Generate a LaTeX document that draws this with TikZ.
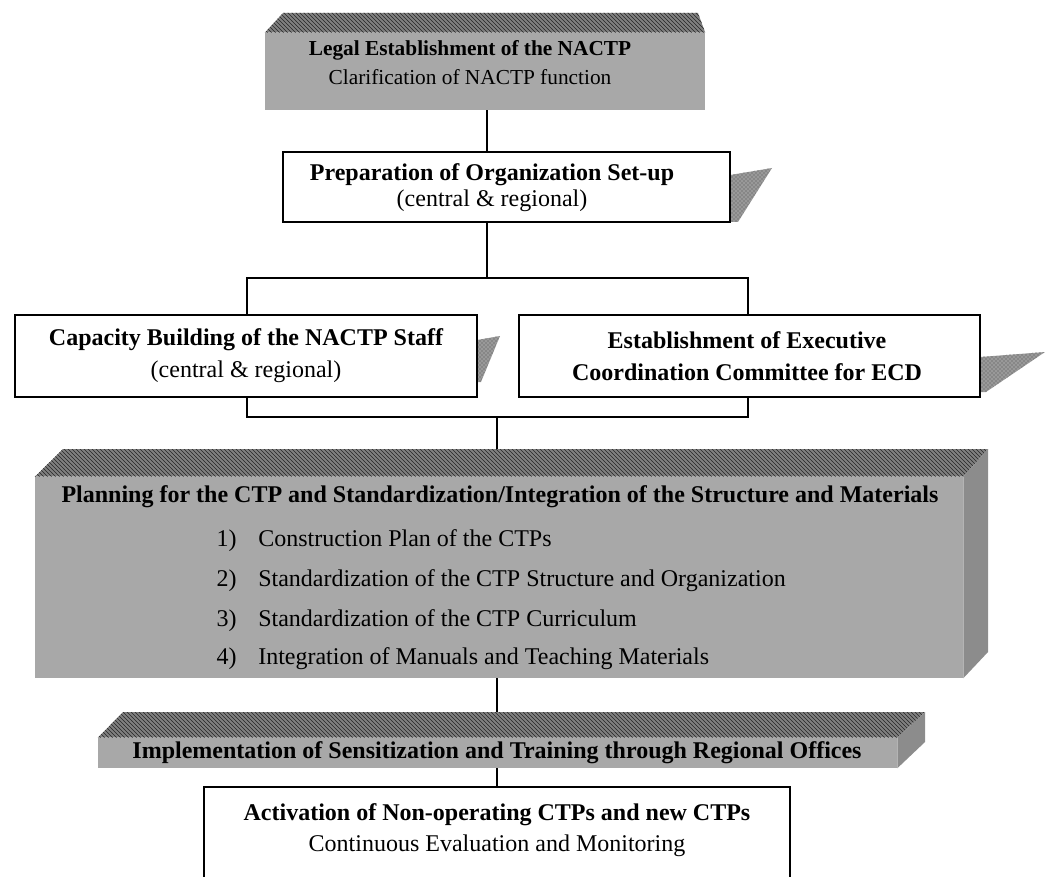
\documentclass[tikz,border=0pt]{standalone}
\usepackage{fontspec}
\setmainfont{Liberation Serif}
\usetikzlibrary{patterns}
\begin{document}
\begin{tikzpicture}[x=0.75pt,y=-0.75pt,
  conn/.style={line width=1pt},
  boxA/.style={draw=black, line width=2pt, fill=white, inner sep=0pt},
  boxB/.style={draw=black, line width=1.1pt, fill=white, inner sep=0pt},
  front/.style={fill=black!34, inner sep=0pt},
  topf/.style={fill=black!50, postaction={pattern=north west lines, pattern color=black!85}},
  sidef/.style={fill=black!45},
  shadef/.style={fill=black!40, postaction={pattern=crosshatch dots, pattern color=black!70}},
  hb/.style={font=\fontsize{18}{22}\selectfont\bfseries, inner sep=0pt},
  nt/.style={font=\fontsize{18}{22}\selectfont, inner sep=0pt},
  hs/.style={font=\fontsize{16}{20}\selectfont\bfseries, inner sep=0pt},
  ns/.style={font=\fontsize{16}{20}\selectfont, inner sep=0pt}]
\useasboundingbox (0,0) rectangle (1045,877);

% connector x positions
\coordinate (cx1) at (487,0);
\coordinate (cx2) at (497,0);

% ---------------- Legal establishment (3D gray block)
\node[front, minimum width=440*0.75pt, minimum height=77*0.75pt] (legal) at (485,71.5) {};
\path[topf] (legal.north west) -- (283,13) -- (698,13) -- (legal.north east) -- cycle;
\node[hs] (legalA) at (470,50) {Legal Establishment of the NACTP};
\node[ns] (legalB) at (470,77) {Clarification of NACTP function};

% ---------------- Preparation box
\fill[shadef] (730,175) -- (772,168) -- (738,222) -- (730,222) -- cycle;
\node[boxA, minimum width=447*0.75pt, minimum height=70*0.75pt] (prep) at (506.5,187) {};
\node[hb] (prepA) at (492,175) {Preparation of Organization Set-up};
\node[nt] (prepB) at (492,201) {(central \& regional)};
\draw[conn] (legal.south -| cx1) -- (prep.north -| cx1);

% ---------------- Capacity / Executive boxes
\fill[shadef] (477,340) -- (500,336) -- (481,382) -- (477,382) -- cycle;
\fill[shadef] (980,357) -- (1045,352) -- (986,392) -- (980,392) -- cycle;
\node[boxA, minimum width=462*0.75pt, minimum height=82*0.75pt] (cap) at (246,356) {};
\node[boxA, minimum width=461*0.75pt, minimum height=82*0.75pt] (exe) at (749.5,356) {};
\node[hb] (capA) at (246,340) {Capacity Building of the NACTP Staff};
\node[nt] (capB) at (246,372) {(central \& regional)};
\node[hb] (exeA) at (747,340) {Establishment of Executive};
\node[hb] (exeB) at (747,372) {Coordination Committee for ECD};

\coordinate (bl) at (247,278);
\coordinate (br) at (748,278);
\draw[conn] (prep.south -| cx1) -- (cx1 |- bl);
\draw[conn] (cap.north -| bl) -- (bl) -- (br) -- (exe.north -| br);
\coordinate (lbl) at (247,417);
\coordinate (lbr) at (748,417);
\draw[conn] (cap.south -| lbl) -- (lbl) -- (lbr) -- (exe.south -| lbr);

% ---------------- Planning block
\node[front, minimum width=928*0.75pt, minimum height=201*0.75pt] (plan) at (499,577.5) {};
\path[topf] (plan.north west) -- (63,449) -- (988,449) -- (plan.north east) -- cycle;
\path[sidef] (plan.north east) -- (988,449) -- (988,652) -- (plan.south east) -- cycle;
\coordinate (plantop) at (497,449);
\draw[conn] (cx2 |- lbl) -- (plantop);
\node[hb] (planA) at (500,497) {Planning for the CTP and Standardization/Integration of the Structure and Materials};
\node[nt, anchor=base east] (n1) at (237,546) {1)};
\node[nt, anchor=base west] (i1) at (258,546) {Construction Plan of the CTPs};
\node[nt, anchor=base east] (n2) at (237,586) {2)};
\node[nt, anchor=base west] (i2) at (258,586) {Standardization of the CTP Structure and Organization};
\node[nt, anchor=base east] (n3) at (237,626) {3)};
\node[nt, anchor=base west] (i3) at (258,626) {Standardization of the CTP Curriculum};
\node[nt, anchor=base east] (n4) at (237,664) {4)};
\node[nt, anchor=base west] (i4) at (258,664) {Integration of Manuals and Teaching Materials};

% ---------------- Implementation bar
\node[front, minimum width=799*0.75pt, minimum height=30*0.75pt] (impl) at (497.5,753) {};
\path[topf] (impl.north west) -- (123,712) -- (925,712) -- (impl.north east) -- cycle;
\path[sidef] (impl.north east) -- (925,712) -- (925,742) -- (impl.south east) -- cycle;
\coordinate (impltop) at (497,712);
\draw[conn] (plan.south -| cx2) -- (impltop);
\node[hb] (implA) at (497,753) {Implementation of Sensitization and Training through Regional Offices};

% ---------------- Activation box
\node[boxB, minimum width=586*0.75pt, minimum height=106*0.75pt] (act) at (497,840) {};
\draw[conn] (impl.south -| cx2) -- (act.north -| cx2);
\node[hb] (actA) at (497,815) {Activation of Non-operating CTPs and new CTPs};
\node[nt] (actB) at (497,846) {Continuous Evaluation and Monitoring};
\end{tikzpicture}
\end{document}
